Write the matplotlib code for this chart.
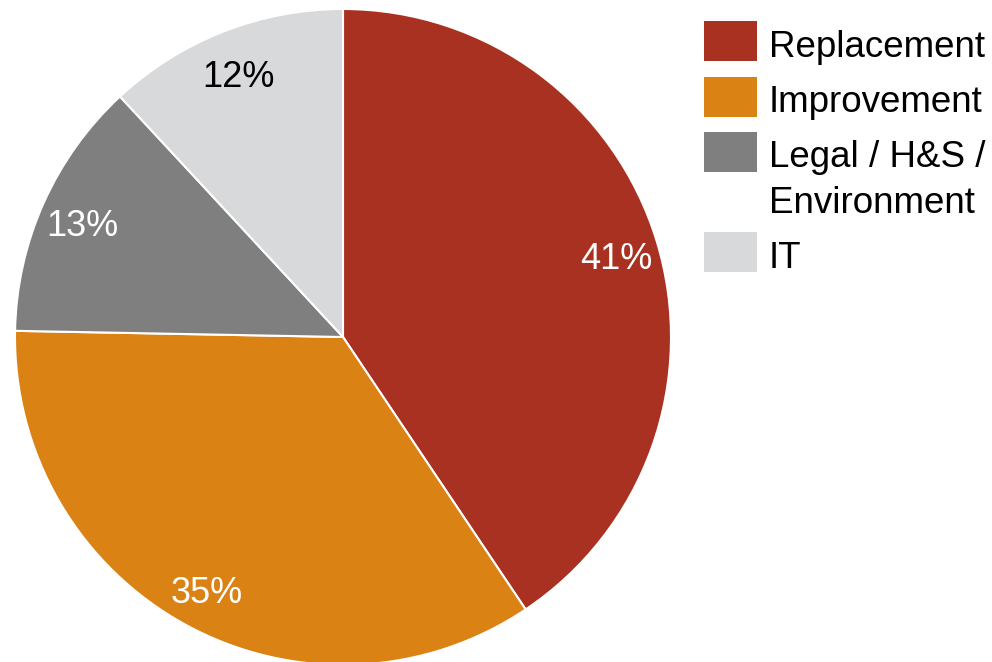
import matplotlib
matplotlib.use("Agg")
import matplotlib.pyplot as plt
from matplotlib.patches import Rectangle

plt.rcParams['font.family'] = ['Liberation Sans', 'DejaVu Sans']

categories = ["Replacement", "Improvement", "Legal / H&S /\nEnvironment", "IT"]
values = [40.6, 34.7, 12.8, 11.9]
colors = ["#A93121", "#DB8215", "#7F7F7F", "#D8D9DB"]
label_colors = ["white", "white", "white", "black"]

W, H = 992, 662
fig = plt.figure(figsize=(W / 100, H / 100), dpi=100)
ax = fig.add_axes([0, 0, 1, 1])

cx, cy, R = 343, 337, 328
wedges, texts, autotexts = ax.pie(
    values, colors=colors, startangle=90, counterclock=False,
    autopct="%.0f%%", pctdistance=0.87,
    wedgeprops=dict(edgecolor="white", linewidth=1.5),
    textprops=dict(fontsize=26),
)
for t, c in zip(autotexts, label_colors):
    t.set_color(c)
    x, y = t.get_position()
    t.set_position((x, y - 6 / R))

ax.set_xlim(-cx / R, (W - cx) / R)
ax.set_ylim(-(H - cy) / R, cy / R)
ax.set_aspect('auto')
ax.axis('off')

# legend drawn manually
rows = [(21, 61, [57]), (77, 117, [112]), (132, 172, [167, 213]), (232, 272, [268])]
for (top, bot, baselines), cat, col in zip(rows, categories, colors):
    fig.patches.append(Rectangle((704 / W, 1 - bot / H), 53 / W, (bot - top) / H,
                                 transform=fig.transFigure, facecolor=col, edgecolor='none'))
    for line, b in zip(cat.split("\n"), baselines):
        fig.text(769 / W, 1 - b / H, line, fontsize=26.5, va='baseline', ha='left', color='black')

fig.savefig("out.png", dpi=100)
